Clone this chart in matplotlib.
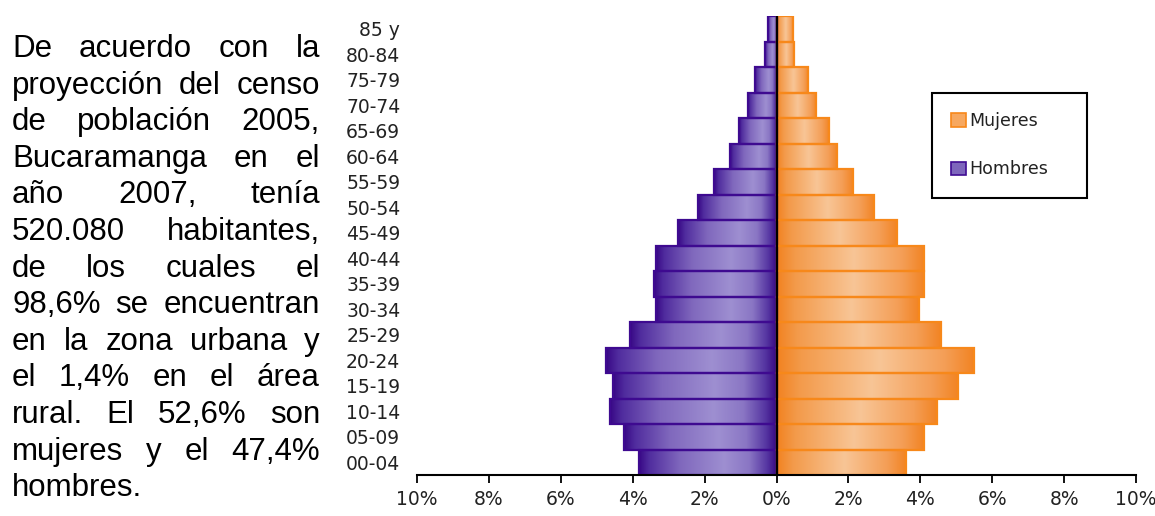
import matplotlib
matplotlib.use('Agg')
import matplotlib.pyplot as plt
import numpy as np
from matplotlib.colors import LinearSegmentedColormap
from matplotlib.patches import Patch
from matplotlib.ticker import FuncFormatter

# ---------------- data ----------------
categories = ['00-04', '05-09', '10-14', '15-19', '20-24', '25-29', '30-34',
              '35-39', '40-44', '45-49', '50-54', '55-59', '60-64', '65-69',
              '70-74', '75-79', '80-84', '85 y']
hombres = [3.82, 4.23, 4.62, 4.54, 4.74, 4.07, 3.34, 3.40, 3.34, 2.73,
           2.17, 1.75, 1.28, 1.03, 0.78, 0.61, 0.33, 0.25]
mujeres = [3.60, 4.09, 4.46, 5.06, 5.48, 4.57, 3.95, 4.09, 4.09, 3.34,
           2.70, 2.14, 1.67, 1.45, 1.11, 0.89, 0.50, 0.47]
xticks = [-10, -8, -6, -4, -2, 0, 2, 4, 6, 8, 10]
legend_labels = ['Mujeres', 'Hombres']
paragraph_lines = [
    "De acuerdo con la",
    "proyección del censo",
    "de población 2005,",
    "Bucaramanga en el",
    "año 2007, tenía",
    "520.080 habitantes,",
    "de los cuales el",
    "98,6% se encuentran",
    "en la zona urbana y",
    "el 1,4% en el área",
    "rural. El 52,6% son",
    "mujeres y el 47,4%",
    "hombres.",
]

# ---------------- figure ----------------
W, H = 1155, 516
fig = plt.figure(figsize=(W / 100, H / 100), dpi=100)
ax = fig.add_axes([417 / W, 1 - 475 / H, (1136 - 417) / W, (475 - 16) / H])

y = np.arange(len(categories))

cm_h = LinearSegmentedColormap.from_list('h', [
    (0.0, '#380886'), (0.07, '#502C9E'), (0.30, '#8068BD'),
    (0.62, '#9E8FD1'), (0.80, '#8A76C4'), (0.93, '#5636A2'), (1.0, '#360882')])
cm_m = LinearSegmentedColormap.from_list('m', [
    (0.0, '#F28220'), (0.12, '#F39A4A'), (0.52, '#F8C596'),
    (0.85, '#F49E56'), (1.0, '#F28322')])

grad = np.linspace(0, 1, 256).reshape(1, -1)


def gradient_bars(vals, cmap, base, edge):
    bars = ax.barh(y, vals, height=1.0, color=base, linewidth=0, zorder=1)
    for p in bars:
        bb = p.get_bbox()
        x0, x1 = sorted([bb.x0, bb.x1])
        y0, y1 = sorted([bb.y0, bb.y1])
        im = ax.imshow(grad, cmap=cmap, extent=(x0, x1, y0, y1), aspect='auto',
                       interpolation='bilinear', zorder=2)
        im.set_clip_path(p)
    ax.barh(y, vals, height=1.0, facecolor='none', edgecolor=edge,
            linewidth=1.6, zorder=3)


gradient_bars([-v for v in hombres], cm_h, '#7E66BC', '#3E0A90')
gradient_bars(mujeres, cm_m, '#F5A862', '#F7881A')

ax.axvline(0, color='black', lw=1.6, zorder=4)

ax.set_xlim(-10, 10)
ax.set_ylim(-0.5, len(categories) - 0.5)
ax.set_xticks(xticks)
ax.xaxis.set_major_formatter(FuncFormatter(lambda v, p: f'{abs(v):.0f}%'))
ax.set_yticks(y)
ax.set_yticklabels(categories)
ax.tick_params(axis='x', length=6, width=1.3, direction='out', pad=5,
               labelsize=13.5, colors='black', labelcolor='#222222')
ax.tick_params(axis='y', length=0, pad=12, labelsize=13.5, labelcolor='#222222')
for s in ['top', 'right', 'left']:
    ax.spines[s].set_visible(False)
ax.spines['bottom'].set_linewidth(1.5)
ax.spines['bottom'].set_color('black')
ax.spines['bottom'].set_zorder(5)

handles = [Patch(facecolor='#F7A860', edgecolor='#F7881A', linewidth=1.2),
           Patch(facecolor='#7E66BC', edgecolor='#400C92', linewidth=1.2)]
leg = ax.legend(handles, legend_labels, loc='upper left',
                bbox_to_anchor=(932 / W, 1 - 195 / H, (1087 - 932) / W, 102 / H),
                bbox_transform=fig.transFigure, mode='expand',
                fancybox=False, edgecolor='black', framealpha=1,
                borderpad=1.1, labelspacing=1.75, handlelength=0.85,
                handleheight=0.85, handletextpad=0.2, fontsize=12.5,
                borderaxespad=0)
leg.get_frame().set_linewidth(1.5)
for t in leg.get_texts():
    t.set_color('#222222')

# ---------------- justified paragraph ----------------
renderer = fig.canvas.get_renderer()
x_left, x_right = 12, 320
base0, step = 57, 36.6
fs = 22.5
probe1 = fig.text(0, 0, 'a a', fontsize=fs, family='Liberation Sans')
probe2 = fig.text(0, 0, 'aa', fontsize=fs, family='Liberation Sans')
space_w = probe1.get_window_extent(renderer).width - probe2.get_window_extent(renderer).width
probe1.remove()
probe2.remove()

for i, line in enumerate(paragraph_lines):
    base = base0 + i * step
    words = line.split()
    texts = [fig.text(0, 1 - base / H, w, fontsize=fs, family='Liberation Sans',
                      ha='left', va='baseline', color='black') for w in words]
    widths = [t.get_window_extent(renderer).width for t in texts]
    if i == len(paragraph_lines) - 1 or len(words) == 1:
        gap = space_w
    else:
        gap = (x_right - x_left - sum(widths)) / (len(words) - 1)
    x = x_left
    for t, w in zip(texts, widths):
        t.set_x(x / W)
        x += w + gap

fig.savefig('out.png', dpi=100)
